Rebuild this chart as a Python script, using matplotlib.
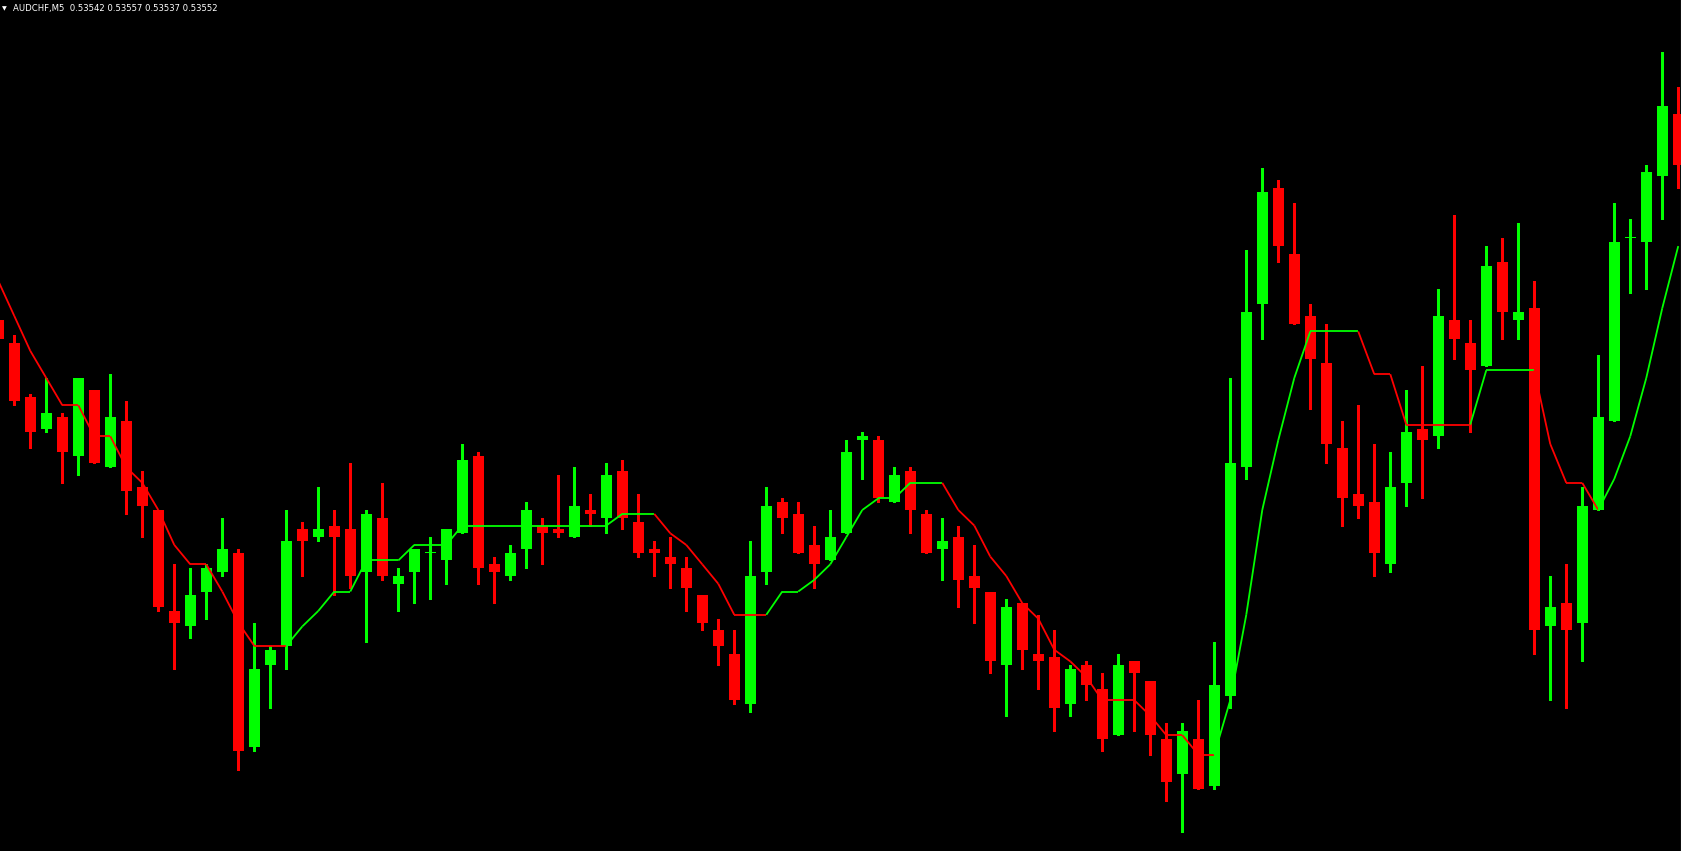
import numpy as np
import matplotlib
matplotlib.use("Agg")
import matplotlib.pyplot as plt
from matplotlib.collections import LineCollection

symbol = "AUDCHF,M5"
header_prices = ["0.53542", "0.53557", "0.53537", "0.53552"]

opens = [0.53573, 0.53567, 0.53553, 0.53545, 0.53548, 0.53538, 0.53555, 0.53535, 0.53547, 0.53530,
         0.53524, 0.53498, 0.53494, 0.53503, 0.53508, 0.53513, 0.53463, 0.53484, 0.53489, 0.53519,
         0.53517, 0.53520, 0.53519, 0.53508, 0.53522, 0.53505, 0.53508, 0.53513, 0.53511, 0.53518,
         0.53538, 0.53510, 0.53507, 0.53514, 0.53520, 0.53519, 0.53517, 0.53524, 0.53522, 0.53534,
         0.53521, 0.53514, 0.53512, 0.53509, 0.53502, 0.53493, 0.53487, 0.53474, 0.53508, 0.53526,
         0.53523, 0.53515, 0.53511, 0.53518, 0.53542, 0.53542, 0.53526, 0.53534, 0.53523, 0.53514,
         0.53517, 0.53507, 0.53503, 0.53484, 0.53500, 0.53487, 0.53486, 0.53474, 0.53484, 0.53478,
         0.53466, 0.53485, 0.53480, 0.53465, 0.53456, 0.53465, 0.53453, 0.53476, 0.53535, 0.53577,
         0.53607, 0.53590, 0.53574, 0.53562, 0.53540, 0.53528, 0.53526, 0.53510, 0.53531, 0.53545,
         0.53543, 0.53573, 0.53567, 0.53561, 0.53588, 0.53573, 0.53576, 0.53494, 0.53500, 0.53495,
         0.53524, 0.53547, 0.53594, 0.53593, 0.53610, 0.53626]
highs = [0.53575, 0.53569, 0.53554, 0.53558, 0.53549, 0.53558, 0.53555, 0.53559, 0.53552, 0.53534,
         0.53524, 0.53510, 0.53509, 0.53510, 0.53522, 0.53514, 0.53495, 0.53489, 0.53524, 0.53521,
         0.53530, 0.53524, 0.53536, 0.53524, 0.53531, 0.53509, 0.53514, 0.53517, 0.53519, 0.53541,
         0.53539, 0.53512, 0.53515, 0.53526, 0.53522, 0.53533, 0.53535, 0.53528, 0.53536, 0.53537,
         0.53528, 0.53516, 0.53517, 0.53512, 0.53502, 0.53496, 0.53493, 0.53516, 0.53530, 0.53527,
         0.53526, 0.53520, 0.53524, 0.53542, 0.53544, 0.53543, 0.53535, 0.53535, 0.53524, 0.53522,
         0.53520, 0.53515, 0.53503, 0.53501, 0.53500, 0.53497, 0.53493, 0.53484, 0.53485, 0.53482,
         0.53487, 0.53485, 0.53480, 0.53469, 0.53469, 0.53475, 0.53490, 0.53558, 0.53591, 0.53612,
         0.53609, 0.53603, 0.53577, 0.53572, 0.53547, 0.53551, 0.53541, 0.53539, 0.53555, 0.53561,
         0.53581, 0.53600, 0.53573, 0.53592, 0.53594, 0.53598, 0.53583, 0.53507, 0.53510, 0.53530,
         0.53564, 0.53603, 0.53599, 0.53613, 0.53642, 0.53633]
lows = [0.53566, 0.53551, 0.53540, 0.53544, 0.53531, 0.53533, 0.53536, 0.53535, 0.53523, 0.53517,
        0.53498, 0.53483, 0.53491, 0.53496, 0.53507, 0.53457, 0.53462, 0.53473, 0.53483, 0.53507,
        0.53516, 0.53502, 0.53504, 0.53490, 0.53506, 0.53498, 0.53500, 0.53501, 0.53505, 0.53518,
        0.53505, 0.53500, 0.53506, 0.53509, 0.53510, 0.53517, 0.53517, 0.53520, 0.53518, 0.53519,
        0.53512, 0.53507, 0.53504, 0.53498, 0.53493, 0.53484, 0.53474, 0.53472, 0.53505, 0.53518,
        0.53513, 0.53504, 0.53511, 0.53518, 0.53532, 0.53526, 0.53526, 0.53518, 0.53513, 0.53506,
        0.53499, 0.53495, 0.53482, 0.53471, 0.53483, 0.53478, 0.53467, 0.53471, 0.53475, 0.53462,
        0.53466, 0.53467, 0.53461, 0.53449, 0.53441, 0.53452, 0.53452, 0.53473, 0.53532, 0.53568,
        0.53588, 0.53572, 0.53550, 0.53536, 0.53520, 0.53522, 0.53507, 0.53508, 0.53525, 0.53527,
        0.53540, 0.53563, 0.53544, 0.53561, 0.53568, 0.53568, 0.53487, 0.53475, 0.53473, 0.53485,
        0.53524, 0.53547, 0.53580, 0.53581, 0.53599, 0.53607]
closes = [0.53568, 0.53552, 0.53544, 0.53549, 0.53539, 0.53558, 0.53536, 0.53548, 0.53529, 0.53525,
          0.53499, 0.53495, 0.53502, 0.53509, 0.53514, 0.53462, 0.53483, 0.53488, 0.53516, 0.53516,
          0.53519, 0.53517, 0.53507, 0.53523, 0.53507, 0.53507, 0.53514, 0.53513, 0.53519, 0.53537,
          0.53509, 0.53508, 0.53513, 0.53524, 0.53518, 0.53518, 0.53525, 0.53523, 0.53533, 0.53522,
          0.53513, 0.53513, 0.53510, 0.53504, 0.53495, 0.53489, 0.53475, 0.53507, 0.53525, 0.53522,
          0.53513, 0.53510, 0.53517, 0.53539, 0.53543, 0.53527, 0.53533, 0.53524, 0.53513, 0.53516,
          0.53506, 0.53504, 0.53485, 0.53499, 0.53488, 0.53485, 0.53473, 0.53483, 0.53479, 0.53465,
          0.53484, 0.53482, 0.53466, 0.53454, 0.53467, 0.53452, 0.53479, 0.53536, 0.53575, 0.53606,
          0.53592, 0.53572, 0.53563, 0.53541, 0.53527, 0.53525, 0.53513, 0.53530, 0.53544, 0.53542,
          0.53574, 0.53568, 0.53560, 0.53587, 0.53575, 0.53575, 0.53493, 0.53499, 0.53493, 0.53525,
          0.53548, 0.53593, 0.53594, 0.53611, 0.53628, 0.53613]

# trailing indicator value per bar, and its direction (1 = up / green, -1 = down / red)
trend_line = [0.53583, 0.53574, 0.53565, 0.53558, 0.53551, 0.53551, 0.53543, 0.53543, 0.53535, 0.53531,
              0.53524, 0.53515, 0.53510, 0.53510, 0.53503, 0.53495, 0.53489, 0.53489, 0.53489, 0.53494,
              0.53498, 0.53503, 0.53503, 0.53511, 0.53511, 0.53511, 0.53515, 0.53515, 0.53515, 0.53520,
              0.53520, 0.53520, 0.53520, 0.53520, 0.53520, 0.53520, 0.53520, 0.53520, 0.53520, 0.53523,
              0.53523, 0.53523, 0.53518, 0.53515, 0.53510, 0.53505, 0.53497, 0.53497, 0.53497, 0.53503,
              0.53503, 0.53506, 0.53510, 0.53517, 0.53524, 0.53527, 0.53527, 0.53531, 0.53531, 0.53531,
              0.53524, 0.53520, 0.53512, 0.53507, 0.53500, 0.53496, 0.53488, 0.53485, 0.53481, 0.53475,
              0.53475, 0.53475, 0.53471, 0.53466, 0.53466, 0.53461, 0.53461, 0.53475, 0.53497, 0.53524,
              0.53542, 0.53558, 0.53570, 0.53570, 0.53570, 0.53570, 0.53559, 0.53559, 0.53546, 0.53546,
              0.53546, 0.53546, 0.53546, 0.53560, 0.53560, 0.53560, 0.53560, 0.53541, 0.53531, 0.53531,
              0.53524, 0.53532, 0.53543, 0.53558, 0.53576, 0.53592]
trend_dir = [-1] * 19 + [1] * 23 + [-1] * 7 + [1] * 11 + [-1] * 17 + [1] * 9 + [-1] * 7 + [1] * 4 + [-1] * 4 + [1] * 5

BULL = "#00ff00"
BEAR = "#ff0000"

try:
    o = np.array(opens)
    h = np.array(highs)
    l = np.array(lows)
    c = np.array(closes)
    x = np.arange(len(o))

    fig = plt.figure(figsize=(16.83, 8.51), dpi=100, facecolor="black")
    ax = fig.add_axes([0, 0, 1681.3 / 1683, 1])
    ax.set_facecolor("black")

    y_lo, y_hi = 0.5343614, 0.5365541
    px = (y_hi - y_lo) / 851

    colors = [BULL if cc >= oo else BEAR for oo, cc in zip(o, c)]

    # wicks and bodies
    ax.vlines(x, l, h, colors=colors, linewidth=0.75, antialiased=False, zorder=2)
    bottoms = np.minimum(o, c)
    heights = np.maximum(np.abs(c - o), px)
    ax.bar(x, heights, bottom=bottoms, width=0.69, color=colors, linewidth=0,
           antialiased=False, zorder=3)

    # two-colour trailing line drawn over the candles
    pts = np.column_stack([x, trend_line])
    segs = [pts[i - 1:i + 1] for i in range(1, len(pts))]
    seg_cols = [BULL if d > 0 else BEAR for d in trend_dir[1:]]
    ax.add_collection(LineCollection(segs, colors=seg_cols, linewidths=1.3, zorder=4))

    # right price scale (labels fall outside the picture)
    for side in ["left", "top", "bottom"]:
        ax.spines[side].set_visible(False)
    ax.spines["right"].set_color("white")
    ax.spines["right"].set_linewidth(0.8)
    ax.set_xticks([])
    ax.set_yticks(np.arange(0.5344, 0.53655, 0.0001))
    ax.yaxis.tick_right()
    ax.tick_params(axis="y", direction="out", length=3, width=0.8, colors="white",
                   labelright=False, labelleft=False)

    # limits last so the tick call cannot widen them
    ax.set_xlim(0.106, 105.19)
    ax.set_ylim(y_lo, y_hi)

    fig.text(2 / 1683, 1 - 10 / 851, "\u25bc", color="white", fontsize=4.5,
             va="baseline", ha="left")
    fig.text(13 / 1683, 1 - 11 / 851, symbol + "  " + " ".join(header_prices),
             color="white", fontsize=6.1, va="baseline", ha="left")

    fig.savefig("out.png", dpi=100, facecolor="black")

except Exception as e:
    print("Error:", e)
